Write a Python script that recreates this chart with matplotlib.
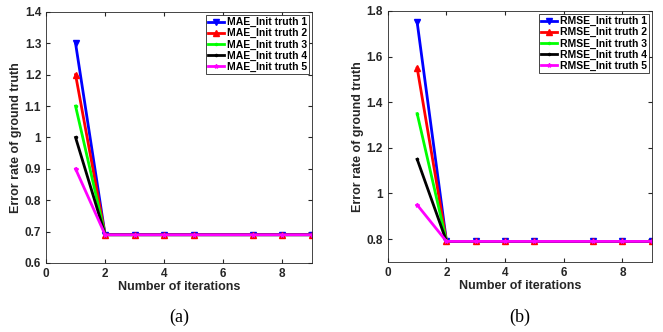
import matplotlib

matplotlib.use("Agg")
import matplotlib.pyplot as plt

iters = [1, 2, 3, 4, 5, 7, 8, 9]

mae_1 = [1.3, 0.69, 0.69, 0.69, 0.69, 0.69, 0.69, 0.69]
mae_2 = [1.2, 0.69, 0.69, 0.69, 0.69, 0.69, 0.69, 0.69]
mae_3 = [1.1, 0.69, 0.69, 0.69, 0.69, 0.69, 0.69, 0.69]
mae_4 = [1.0, 0.69, 0.69, 0.69, 0.69, 0.69, 0.69, 0.69]
mae_5 = [0.9, 0.69, 0.69, 0.69, 0.69, 0.69, 0.69, 0.69]

rmse_1 = [1.75, 0.79, 0.79, 0.79, 0.79, 0.79, 0.79, 0.79]
rmse_2 = [1.55, 0.79, 0.79, 0.79, 0.79, 0.79, 0.79, 0.79]
rmse_3 = [1.35, 0.79, 0.79, 0.79, 0.79, 0.79, 0.79, 0.79]
rmse_4 = [1.15, 0.79, 0.79, 0.79, 0.79, 0.79, 0.79, 0.79]
rmse_5 = [0.95, 0.79, 0.79, 0.79, 0.79, 0.79, 0.79, 0.79]

styles = [("#0000ff", "v", 5), ("#ff0000", "^", 5), ("#00ff00", ".", 3),
          ("#000000", ".", 3), ("#ff00ff", "*", 3)]

plt.rcParams["font.family"] = ["Liberation Sans", "DejaVu Sans"]
plt.rcParams["font.weight"] = "bold"

fig = plt.figure(figsize=(6.63, 3.32), dpi=100)
ax_a = fig.add_axes([0.0694, 0.208, 0.401, 0.756])
ax_b = fig.add_axes([0.585, 0.211, 0.398, 0.756])


def draw(ax, series, prefix, ylim, yticks, yticklabels, caption):
    for i, (vals, (c, m, ms)) in enumerate(zip(series, styles)):
        ax.plot(iters, vals, color=c, marker=m, markersize=ms, linewidth=2,
                label=f"{prefix}_Init truth {i + 1}")
    ax.set_xlim(0, 9)
    ax.set_ylim(*ylim)
    ax.set_xticks([0, 2, 4, 6, 8])
    ax.set_yticks(yticks, yticklabels)
    ax.tick_params(direction="in", labelsize=8.5, colors="#262626", length=3,
                   top=True, right=True)
    for sp in ax.spines.values():
        sp.set_color("#262626")
        sp.set_linewidth(0.6)
    ax.set_xlabel("Number of iterations", fontsize=9, fontweight="bold",
                  color="#262626", labelpad=1)
    ax.set_ylabel("Error rate of ground truth", fontsize=9, fontweight="bold",
                  color="#262626", labelpad=2)
    leg = ax.legend(loc="upper right", fontsize=7.5, handlelength=1.6,
                    handletextpad=0.2, borderpad=0.2, labelspacing=0.1,
                    borderaxespad=0.3, fancybox=False, framealpha=1)
    leg.get_frame().set_edgecolor("#262626")
    leg.get_frame().set_linewidth(0.6)
    pos = ax.get_position()
    fig.text((pos.x0 + pos.x1) / 2, 0.045, caption, ha="center",
             va="center", fontsize=13, fontweight="normal",
             family=["Liberation Serif", "DejaVu Serif"])


draw(ax_a, [mae_1, mae_2, mae_3, mae_4, mae_5], "MAE", (0.6, 1.4),
     [0.6, 0.7, 0.8, 0.9, 1.0, 1.1, 1.2, 1.3, 1.4],
     ["0.6", "0.7", "0.8", "0.9", "1", "1.1", "1.2", "1.3", "1.4"], "(a)")
draw(ax_b, [rmse_1, rmse_2, rmse_3, rmse_4, rmse_5], "RMSE", (0.7, 1.8),
     [0.8, 1.0, 1.2, 1.4, 1.6, 1.8],
     ["0.8", "1", "1.2", "1.4", "1.6", "1.8"], "(b)")

fig.savefig("out.png", dpi=100)
